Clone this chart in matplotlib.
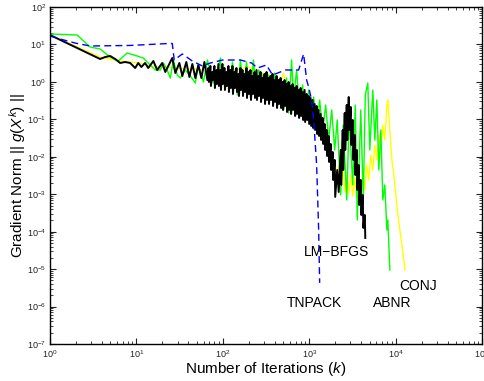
import matplotlib
matplotlib.use("Agg")
import matplotlib.pyplot as plt
from matplotlib.ticker import LogLocator, NullFormatter

plt.rcParams['font.family'] = ['Liberation Sans', 'DejaVu Sans']
plt.rcParams['mathtext.fontset'] = 'custom'
plt.rcParams['mathtext.rm'] = 'Liberation Sans'
plt.rcParams['mathtext.it'] = 'Liberation Sans:italic'

# CONJ (yellow)
conj_iter = [1, 1.95, 3.80, 6.48, 11.0, 14.4, 18.9, 28.2, 42.1, 55.0, 71.8, 93.8,
             140, 198, 259, 357, 442, 505, 547, 695, 908, 1218, 1393, 1592, 1771,
             1868, 1971, 2079, 2193, 2313, 2440, 2574, 2716, 2865, 3022, 3188, 3363,
             3548, 3742, 3948, 4164, 4393, 4634, 4889, 5157, 5440, 5739, 6054, 6387,
             6737, 7107, 7497, 7909, 8120, 8566, 9036, 9530, 10050, 10600, 11190,
             11800, 12440, 12790]
conj_grad = [17.9, 9.09, 4.62, 3.61, 3.20, 2.66, 2.50, 2.35, 2.21, 2.08, 1.84, 1.73,
             2.08, 2.50, 1.84, 1.44, 0.731, 1.73, 0.505, 0.447, 0.178, 0.116, 0.052, 0.0281, 0.0152,
             0.00327, 0.00822, 0.00177, 0.00604, 0.0013, 0.0050, 0.00115, 0.0040, 0.00102, 0.00327, 0.000898, 0.00272,
             0.000845, 0.0024, 0.000794, 0.00327, 0.0013, 0.00604, 0.0024, 0.0112, 0.00444, 0.0207, 0.00822, 0.0382,
             0.0152, 0.0706, 0.0281, 0.242, 0.329, 0.052, 0.00822, 0.00327, 0.000955, 0.000279, 0.000111,
             4.4e-5, 1.75e-5, 9.5e-6]

# ABNR (green)
abnr_iter = [1, 2.06, 2.91, 3.80, 4.97, 6.15, 7.82, 10.2, 12.0, 13.7, 16.5, 18.9, 20.5,
             22.2, 24.7, 26.7, 29.7, 32.2, 36.8, 42.1, 48.1, 52.1, 59.6, 66.3, 77.8,
             88.9, 93.8, 96.3, 110, 122, 129, 148, 160, 173, 188, 209, 226, 245, 259,
             280, 312, 338, 366, 397, 430, 466, 505, 547, 577, 625, 659, 714, 774,
             838, 908, 984, 1038, 1125, 1218, 1320, 1430, 1550, 1679, 1820, 1971,
             2107, 2313, 2473, 2716, 2904, 3188, 3409, 3596, 3948, 4221, 4453, 4760,
             5020, 5440, 5739, 6054, 6387, 6737, 7107, 7497, 7909, 8120, 8566]
abnr_grad = [19.0, 17.9, 8.55, 7.56, 4.62, 3.61, 5.91, 4.92, 4.35, 3.20, 2.08, 2.08, 3.20,
             2.35, 1.27, 3.84, 1.53, 1.27, 2.08, 1.44, 0.935, 2.83, 0.994, 3.84, 0.935,
             2.08, 4.35, 0.826, 1.84, 0.731, 3.40, 0.447, 3.84, 0.608, 3.40, 0.372, 3.84, 0.505, 2.08,
             1.73, 0.505, 1.53, 0.329, 1.73, 0.242, 1.12, 0.178, 1.27, 0.148, 3.84, 0.329, 2.08, 0.157,
             0.826, 0.109, 0.608, 0.085, 0.395, 0.0588, 0.329, 0.046, 0.242, 0.0281, 0.178, 0.0152,
             0.0961, 0.000955, 0.0706, 0.000702, 0.123, 0.00177, 0.242, 0.000205, 0.178, 0.000702, 0.447, 0.935,
             0.0152, 0.608, 0.0281, 0.329, 0.00444, 0.052, 0.000702, 0.00177, 0.000111, 0.000205, 9.5e-6]

# LM-BFGS (black)
lmbfgs_iter = [1, 1.95, 3.80, 4.35, 4.97, 5.68, 6.48, 7.41, 8.46, 9.68, 10.5, 11.4, 12.6,
               13.7, 15.7, 17.4, 19.9, 21.6, 26.0, 28.2, 31.4, 34.0, 37.8, 41.0, 44.4,
               48.1, 52.1, 56.4, 61.2, 66.3,
               68.1, 69.0, 71.8, 72.8, 75.8, 76.8, 79.9, 81.0, 84.3, 85.4, 88.9, 90.1,
               93.8, 95.1, 98.9, 100.2, 104.4, 105.8, 110.1, 111.6, 116.1, 117.7, 122.5, 124.2,
               129.2, 131.0, 136.3, 138.2, 143.8, 145.8, 151.7, 153.8, 160.0, 162.2, 168.8, 171.1,
               178.1, 180.5, 187.8, 190.4, 198.2, 200.9, 209.0, 211.8, 220.5, 223.5, 232.6, 235.8,
               245.4, 248.7, 258.8, 262.3, 273.1, 276.8, 288.0, 291.9, 303.9, 308.0, 320.5, 324.9,
               338.1, 342.7, 356.7, 361.5, 376.3, 381.4, 396.9, 402.3, 418.7, 424.4, 441.6, 447.6,
               465.9, 472.2, 491.4, 498.1, 518.4, 525.4, 546.8, 554.2, 576.8, 584.6, 608.5, 616.8,
               641.9, 650.6, 677.1, 686.3, 714.3, 724.0, 753.5, 763.7, 794.8, 805.6, 838.4, 849.8,
               884.4, 896.4, 933, 946, 984, 997, 1038, 1052, 1095, 1110, 1155, 1171,
               1218, 1235, 1285, 1302, 1356, 1374, 1430, 1449, 1509, 1529, 1592, 1614,
               1679, 1702, 1771, 1795, 1868, 1893, 1971, 1998,
               2107, 2193, 2313, 2344, 2440, 2473, 2574, 2609, 2716,
               2753, 2865, 2904, 3022, 3063, 3188, 3231, 3363, 3409, 3548, 3596, 3742,
               3793, 3948, 4002, 4164, 4221, 4393, 4453]
lmbfgs_grad = [17.9, 8.55, 4.09, 4.62, 4.92, 4.09, 3.20, 3.40, 3.20, 2.35, 3.20, 2.50, 3.20,
               2.35, 3.61, 2.08, 3.20, 1.84, 4.35, 1.73, 3.20, 1.44, 3.40, 1.35, 3.01,
               1.27, 2.83, 1.27, 3.40, 1.12,
               2.35, 0.994, 2.66, 0.777, 1.84, 1.12, 2.66, 0.687, 2.08, 0.879, 3.01, 0.777,
               2.08, 0.608, 3.01, 0.879, 2.35, 0.608, 1.84, 0.777, 2.66, 0.537, 2.08, 0.687,
               2.66, 0.475, 1.84, 0.687, 2.35, 0.537, 1.63, 0.420, 2.35, 0.608, 2.08, 0.420,
               1.63, 0.537, 2.35, 0.372, 1.84, 0.475, 2.08, 0.329, 1.44, 0.475, 1.84, 0.372,
               2.08, 0.329, 1.44, 0.420, 1.84, 0.291, 1.27, 0.372, 1.63, 0.257, 1.84, 0.329,
               1.27, 0.257, 1.44, 0.329, 1.63, 0.227, 1.12, 0.291, 1.44, 0.201, 1.12, 0.257,
               1.27, 0.201, 0.994, 0.178, 1.12, 0.227, 0.879, 0.157, 0.994, 0.178, 0.777, 0.139,
               0.879, 0.178, 0.687, 0.123, 0.777, 0.139, 0.608, 0.109, 0.687, 0.123, 0.537, 0.0961,
               0.608, 0.085, 0.475, 0.0961, 0.420, 0.0752, 0.372, 0.0665, 0.329, 0.0588, 0.257, 0.052,
               0.227, 0.0406, 0.178, 0.0359, 0.139, 0.0281, 0.109, 0.022, 0.0752, 0.0152, 0.052, 0.0105,
               0.0359, 0.00726, 0.022, 0.00444, 0.0134, 0.0024, 0.00822, 0.000845,
               0.00444, 0.00115, 0.0152, 0.00177, 0.052, 0.00444, 0.148, 0.0152, 0.242,
               0.0281, 0.395, 0.052, 0.214, 0.0207, 0.0961, 0.00822, 0.0382, 0.00327, 0.0152, 0.0013, 0.00604,
               0.000516, 0.0024, 0.000279, 0.000955, 0.000126, 0.000279, 6.79e-5]

# TNPACK (blue, dashed)
tnpack_iter = [1, 1.31, 1.95, 2.91, 8.46, 23.4, 26.0, 27.4, 34.0, 44.4, 58.0, 71.8, 98.9,
               160, 215, 252, 320, 376, 532, 754, 861, 933, 984, 1066, 1125, 1218, 1285, 1320]
tnpack_grad = [16.8, 14.0, 10.9, 9.09, 9.4, 10.6, 10.6, 3.84, 5.56, 3.61, 2.66, 3.20, 3.84,
               3.84, 3.20, 2.35, 2.83, 1.53, 2.08, 2.08, 5.56, 1.12, 0.731, 0.329, 0.0961, 0.00604, 0.000111, 4.3e-6]

method_names = ['LM\u2212BFGS', 'TNPACK', 'ABNR', 'CONJ']
label_pos = [(2080, 2.87e-5), (1155, 1.25e-6), (9036, 1.25e-6), (18090, 3.55e-6)]

fig = plt.figure(figsize=(4.84, 3.81), dpi=100)
ax = fig.add_axes([0.1033, 0.0971, 0.8927, 0.8845])

ax.loglog(conj_iter, conj_grad, color='#ffff00', lw=1.0)
ax.loglog(abnr_iter, abnr_grad, color='#00ff00', lw=1.0)
ax.loglog(lmbfgs_iter, lmbfgs_grad, color='black', lw=1.4)
ax.loglog(tnpack_iter, tnpack_grad, color='#0000ff', lw=1.0, ls='--', dashes=(5, 3))

for name, (x, y) in zip(method_names, label_pos):
    ax.text(x, y, name, fontsize=10, ha='center', va='center')

ax.set_xlim(1, 1e5)
ax.set_ylim(1e-7, 1e2)

ax.xaxis.set_major_locator(LogLocator(base=10, numticks=10))
ax.yaxis.set_major_locator(LogLocator(base=10, numticks=12))
ax.xaxis.set_minor_locator(LogLocator(base=10, subs=range(2, 10), numticks=12))
ax.yaxis.set_minor_locator(LogLocator(base=10, subs=range(2, 10), numticks=12))
ax.xaxis.set_minor_formatter(NullFormatter())
ax.yaxis.set_minor_formatter(NullFormatter())

ax.tick_params(which='both', direction='in', top=True, right=True, labelsize=6.5, colors='#222222')
ax.tick_params(which='major', length=4, width=0.8, pad=3)
ax.tick_params(which='minor', length=2, width=0.6)
for sp in ax.spines.values():
    sp.set_linewidth(1.0)

ax.set_xlabel('Number of Iterations ($k$)', fontsize=11, labelpad=0)
ax.set_ylabel('Gradient Norm || $g$($X^k$) ||', fontsize=11, labelpad=-1)

fig.savefig('out.png', dpi=100)
